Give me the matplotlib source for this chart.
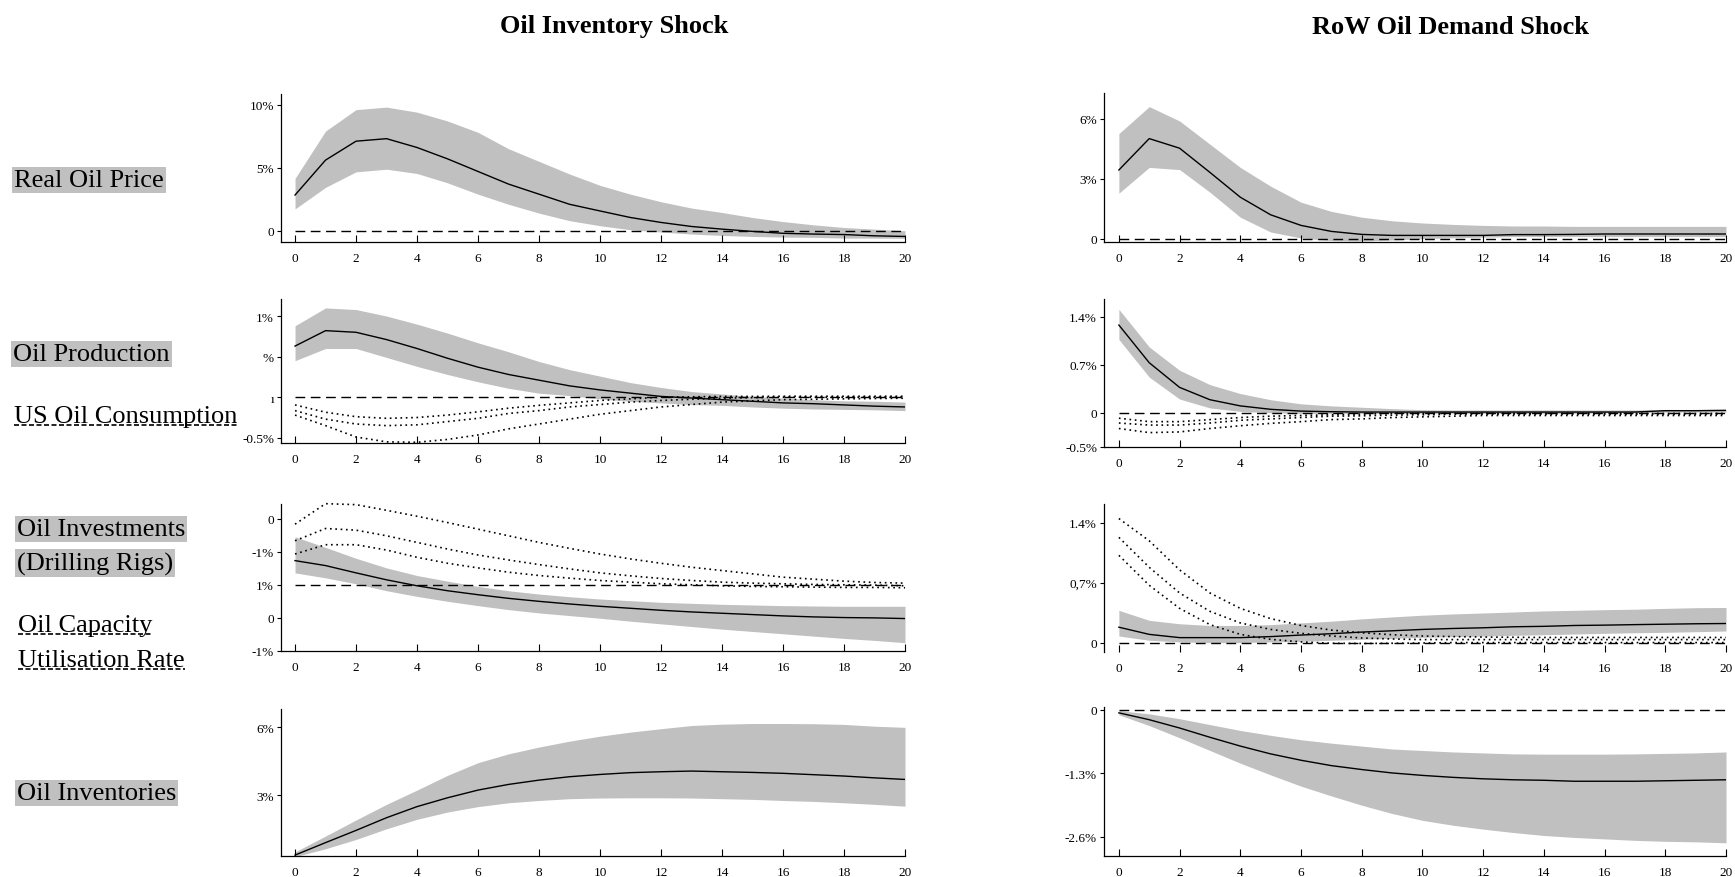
import matplotlib
matplotlib.use("Agg")
import matplotlib.pyplot as plt
from matplotlib.lines import Line2D

W, H = 1735, 878
horizon = list(range(21))

# ---------------- Oil Inventory Shock ----------------
inv_price_med = [2.83, 5.6, 7.1, 7.3, 6.6, 5.7, 4.7, 3.7, 2.9, 2.1, 1.57, 1.05, 0.66, 0.34, 0.13, -0.05, -0.2, -0.26, -0.3, -0.4, -0.45]
inv_price_hi = [4.15, 7.9, 9.6, 9.8, 9.4, 8.7, 7.8, 6.5, 5.5, 4.5, 3.6, 2.9, 2.3, 1.8, 1.45, 1.05, 0.73, 0.47, 0.26, 0.13, 0.0]
inv_price_lo = [1.73, 3.44, 4.67, 4.88, 4.54, 3.8, 2.9, 2.1, 1.4, 0.8, 0.4, 0.08, -0.1, -0.26, -0.37, -0.45, -0.5, -0.52, -0.58, -0.58, -0.6]

inv_prod_med = [0.63, 0.82, 0.80, 0.71, 0.60, 0.48, 0.37, 0.28, 0.21, 0.14, 0.09, 0.05, 0.01, -0.01, -0.03, -0.05, -0.07, -0.08, -0.095, -0.11, -0.12]
inv_prod_hi = [0.88, 1.10, 1.08, 1.00, 0.90, 0.79, 0.67, 0.56, 0.44, 0.34, 0.26, 0.18, 0.12, 0.07, 0.04, 0.01, -0.01, -0.03, -0.045, -0.05, -0.06]
inv_prod_lo = [0.45, 0.60, 0.60, 0.49, 0.38, 0.28, 0.19, 0.11, 0.05, 0.02, -0.02, -0.05, -0.07, -0.09, -0.10, -0.12, -0.135, -0.145, -0.15, -0.155, -0.165]
inv_cons_hi = [-0.095, -0.185, -0.24, -0.26, -0.25, -0.22, -0.18, -0.135, -0.10, -0.07, -0.04, -0.02, 0.0, 0.005, 0.01, 0.01, 0.012, 0.012, 0.012, 0.012, 0.012]
inv_cons_med = [-0.165, -0.27, -0.33, -0.35, -0.34, -0.30, -0.26, -0.20, -0.165, -0.12, -0.09, -0.06, -0.04, -0.025, -0.012, -0.005, 0.0, 0.0, 0.0, 0.0, 0.0]
inv_cons_lo = [-0.22, -0.35, -0.49, -0.55, -0.555, -0.52, -0.465, -0.39, -0.33, -0.27, -0.21, -0.165, -0.12, -0.09, -0.06, -0.045, -0.03, -0.025, -0.02, -0.016, -0.012]

inv_rigs_med = [1.73, 1.58, 1.36, 1.15, 0.97, 0.82, 0.70, 0.59, 0.50, 0.42, 0.35, 0.29, 0.23, 0.18, 0.14, 0.10, 0.06, 0.03, 0.01, 0.0, -0.02]
inv_rigs_hi = [2.45, 2.13, 1.80, 1.51, 1.28, 1.11, 0.95, 0.82, 0.72, 0.64, 0.57, 0.52, 0.47, 0.44, 0.41, 0.39, 0.37, 0.36, 0.35, 0.35, 0.35]
inv_rigs_lo = [1.36, 1.21, 1.03, 0.82, 0.65, 0.50, 0.37, 0.25, 0.15, 0.07, -0.01, -0.10, -0.18, -0.26, -0.34, -0.41, -0.48, -0.55, -0.62, -0.68, -0.75]
inv_cap_hi = [2.83, 3.45, 3.42, 3.25, 3.07, 2.88, 2.68, 2.48, 2.28, 2.10, 1.93, 1.78, 1.65, 1.53, 1.43, 1.33, 1.23, 1.17, 1.11, 1.07, 1.05]
inv_cap_med = [2.33, 2.70, 2.65, 2.48, 2.28, 2.08, 1.90, 1.75, 1.61, 1.48, 1.36, 1.27, 1.19, 1.13, 1.08, 1.05, 1.03, 1.01, 1.00, 0.99, 0.97]
inv_cap_lo = [1.93, 2.21, 2.21, 2.05, 1.83, 1.65, 1.51, 1.38, 1.28, 1.20, 1.13, 1.08, 1.03, 1.00, 0.97, 0.95, 0.94, 0.93, 0.92, 0.92, 0.91]

inv_stock_med = [0.35, 0.9, 1.44, 2.0, 2.49, 2.88, 3.22, 3.47, 3.66, 3.81, 3.91, 3.99, 4.03, 4.06, 4.03, 4.0, 3.96, 3.9, 3.84, 3.76, 3.69]
inv_stock_hi = [0.49, 1.19, 1.9, 2.59, 3.22, 3.87, 4.43, 4.82, 5.12, 5.38, 5.6, 5.78, 5.93, 6.07, 6.13, 6.16, 6.16, 6.15, 6.12, 6.04, 5.99]
inv_stock_lo = [0.28, 0.63, 1.04, 1.51, 1.93, 2.25, 2.49, 2.66, 2.76, 2.84, 2.87, 2.88, 2.88, 2.87, 2.84, 2.81, 2.76, 2.72, 2.66, 2.59, 2.51]

# ---------------- RoW Oil Demand Shock ----------------
dem_price_med = [3.45, 5.02, 4.54, 3.33, 2.09, 1.21, 0.68, 0.38, 0.23, 0.18, 0.18, 0.18, 0.18, 0.22, 0.22, 0.23, 0.25, 0.25, 0.25, 0.25, 0.25]
dem_price_hi = [5.27, 6.62, 5.9, 4.74, 3.58, 2.64, 1.84, 1.38, 1.09, 0.91, 0.8, 0.73, 0.68, 0.65, 0.65, 0.63, 0.63, 0.63, 0.63, 0.63, 0.63]
dem_price_lo = [2.29, 3.58, 3.47, 2.34, 1.09, 0.35, 0.05, -0.08, -0.1, -0.05, 0.02, 0.06, 0.09, 0.12, 0.12, 0.12, 0.12, 0.12, 0.12, 0.12, 0.12]

dem_prod_med = [1.28, 0.73, 0.37, 0.19, 0.10, 0.05, 0.024, 0.015, 0.01, 0.01, 0.01, 0.01, 0.01, 0.01, 0.01, 0.01, 0.01, 0.01, 0.03, 0.03, 0.035]
dem_prod_hi = [1.51, 0.96, 0.62, 0.41, 0.28, 0.19, 0.13, 0.10, 0.08, 0.06, 0.044, 0.04, 0.04, 0.04, 0.04, 0.04, 0.04, 0.04, 0.045, 0.045, 0.045]
dem_prod_lo = [1.07, 0.52, 0.20, 0.07, 0.02, 0.0, -0.01, -0.01, -0.01, -0.01, -0.01, -0.01, -0.01, -0.01, -0.01, -0.01, 0.0, 0.0, 0.01, 0.01, 0.01]
dem_cons_hi = [-0.08, -0.13, -0.13, -0.10, -0.07, -0.05, -0.04, -0.03, -0.02, -0.01, -0.01, -0.01, -0.01, -0.01, -0.01, -0.01, -0.01, -0.01, -0.01, -0.01, -0.01]
dem_cons_med = [-0.15, -0.18, -0.18, -0.15, -0.11, -0.09, -0.07, -0.05, -0.045, -0.035, -0.03, -0.02, -0.02, -0.02, -0.02, -0.02, -0.02, -0.02, -0.02, -0.02, -0.02]
dem_cons_lo = [-0.23, -0.29, -0.28, -0.23, -0.19, -0.155, -0.13, -0.10, -0.09, -0.07, -0.06, -0.05, -0.04, -0.04, -0.04, -0.04, -0.04, -0.04, -0.04, -0.04, -0.04]

dem_rigs_med = [0.18, 0.096, 0.058, 0.058, 0.058, 0.07, 0.088, 0.104, 0.123, 0.138, 0.154, 0.165, 0.173, 0.185, 0.19, 0.2, 0.204, 0.21, 0.215, 0.22, 0.223]
dem_rigs_hi = [0.377, 0.26, 0.22, 0.2, 0.2, 0.21, 0.23, 0.25, 0.277, 0.3, 0.32, 0.335, 0.346, 0.358, 0.37, 0.377, 0.385, 0.39, 0.4, 0.408, 0.41]
dem_rigs_lo = [0.077, 0.027, 0.008, 0.0, 0.0, 0.008, 0.015, 0.027, 0.038, 0.05, 0.062, 0.07, 0.077, 0.085, 0.092, 0.1, 0.108, 0.115, 0.12, 0.127, 0.135]
dem_cap_hi = [1.45, 1.19, 0.85, 0.58, 0.40, 0.28, 0.20, 0.146, 0.115, 0.092, 0.077, 0.07, 0.065, 0.062, 0.06, 0.06, 0.06, 0.06, 0.06, 0.06, 0.06]
dem_cap_med = [1.23, 0.88, 0.58, 0.365, 0.23, 0.154, 0.108, 0.077, 0.054, 0.042, 0.035, 0.035, 0.035, 0.035, 0.035, 0.035, 0.035, 0.035, 0.035, 0.035, 0.035]
dem_cap_lo = [1.02, 0.67, 0.40, 0.21, 0.096, 0.038, 0.008, -0.008, -0.01, -0.008, -0.005, 0.0, 0.0, 0.0, 0.0, 0.0, 0.0, 0.0, 0.0, 0.0, 0.0]

dem_stock_med = [-0.06, -0.2, -0.37, -0.56, -0.74, -0.9, -1.03, -1.14, -1.22, -1.29, -1.34, -1.38, -1.41, -1.43, -1.44, -1.46, -1.46, -1.46, -1.45, -1.44, -1.43]
dem_stock_hi = [-0.014, -0.08, -0.18, -0.3, -0.42, -0.52, -0.61, -0.68, -0.74, -0.8, -0.83, -0.86, -0.88, -0.9, -0.905, -0.905, -0.905, -0.9, -0.89, -0.88, -0.86]
dem_stock_lo = [-0.1, -0.32, -0.57, -0.83, -1.09, -1.33, -1.56, -1.76, -1.95, -2.12, -2.26, -2.36, -2.44, -2.51, -2.57, -2.61, -2.64, -2.67, -2.69, -2.70, -2.72]

# tick labels as shown
L1_ticks, L1_labels = [0, 5, 10], ["0", "5%", "10%"]
L2_ticks, L2_labels = [-0.5, 0, 0.5, 1.0], ["-0.5%", "ı", "%", "1%"]
L3_ticks, L3_labels = [-1, 0, 1, 2, 3], ["-1%", "0", "1%", "-1%", "0"]
L4_ticks, L4_labels = [3, 6], ["3%", "6%"]
R1_ticks, R1_labels = [0, 3, 6], ["0", "3%", "6%"]
R2_ticks, R2_labels = [-0.5, 0, 0.7, 1.4], ["-0.5%", "0", "0.7%", "1.4%"]
R3_ticks, R3_labels = [0, 0.7, 1.4], ["0", "0,7%", "1.4%"]
R4_ticks, R4_labels = [-2.6, -1.3, 0], ["-2.6%", "-1.3%", "0"]

col_titles = ["Oil Inventory Shock", "RoW Oil Demand Shock"]

SERIF = ["Liberation Serif", "DejaVu Serif"]
plt.rcParams["font.family"] = SERIF
BAND = "#c0c0c0"

fig = plt.figure(figsize=(W / 100, H / 100), dpi=100)


def make_ax(x_left, x_right, y_top, y_bot, xlim_left, ylim):
    ax = fig.add_axes([x_left / W, 1 - y_bot / H, (x_right - x_left) / W, (y_bot - y_top) / H])
    ax.set_xlim(xlim_left, 20)
    ax.set_ylim(*ylim)
    for s in ["top", "right"]:
        ax.spines[s].set_visible(False)
    for s in ["left", "bottom"]:
        ax.spines[s].set_linewidth(0.9)
    ax.set_xticks(range(0, 21, 2))
    ax.tick_params(axis="x", direction="in", length=5, width=0.8, pad=7, labelsize=9.5)
    ax.tick_params(axis="y", direction="out", length=3, width=0.8, pad=2, labelsize=9.5)
    ax.patch.set_alpha(0)
    return ax


def band(ax, med, lo, hi):
    ax.fill_between(horizon, lo, hi, color=BAND, linewidth=0, zorder=1)
    ax.plot(horizon, med, color="black", lw=1.0, zorder=3)


def dotted(ax, *series):
    for s in series:
        ax.plot(horizon, s, color="black", lw=1.2, linestyle=(0, (1, 2.2)), zorder=4, clip_on=False)


def zero(ax, y=0):
    ax.plot([0, 20], [y, y], color="black", lw=1.0, dashes=(7, 4), zorder=2, clip_on=False)


LX = (281, 905, -0.46)
RX = (1104, 1726, -0.49)

# Left column
ax = make_ax(LX[0], LX[1], 95, 243, LX[2], (-0.89, 10.84))
band(ax, inv_price_med, inv_price_lo, inv_price_hi); zero(ax)
ax.set_yticks(L1_ticks, L1_labels)

ax = make_ax(LX[0], LX[1], 300, 444, LX[2], (-0.564, 1.21))
band(ax, inv_prod_med, inv_prod_lo, inv_prod_hi); zero(ax)
dotted(ax, inv_cons_hi, inv_cons_med, inv_cons_lo)
ax.set_yticks(L2_ticks, L2_labels)

ax = make_ax(LX[0], LX[1], 505, 652, LX[2], (-1.0, 3.44))
band(ax, inv_rigs_med, inv_rigs_lo, inv_rigs_hi); zero(ax, 1)
dotted(ax, inv_cap_hi, inv_cap_med, inv_cap_lo)
ax.set_yticks(L3_ticks, L3_labels)

ax = make_ax(LX[0], LX[1], 710, 857, LX[2], (0.31, 6.8))
band(ax, inv_stock_med, inv_stock_lo, inv_stock_hi)
ax.set_yticks(L4_ticks, L4_labels)

# Right column
ax = make_ax(RX[0], RX[1], 94, 243, RX[2], (-0.15, 7.3))
band(ax, dem_price_med, dem_price_lo, dem_price_hi); zero(ax)
ax.set_yticks(R1_ticks, R1_labels)

ax = make_ax(RX[0], RX[1], 300, 448, RX[2], (-0.5, 1.66))
band(ax, dem_prod_med, dem_prod_lo, dem_prod_hi); zero(ax)
dotted(ax, dem_cons_hi, dem_cons_med, dem_cons_lo)
ax.set_yticks(R2_ticks, R2_labels)

ax = make_ax(RX[0], RX[1], 505, 653, RX[2], (-0.11, 1.62))
band(ax, dem_rigs_med, dem_rigs_lo, dem_rigs_hi); zero(ax)
dotted(ax, dem_cap_hi, dem_cap_med, dem_cap_lo)
ax.spines["bottom"].set_visible(False)
ax.set_yticks(R3_ticks, R3_labels)

ax = make_ax(RX[0], RX[1], 708, 857, RX[2], (-2.99, 0.06))
band(ax, dem_stock_med, dem_stock_lo, dem_stock_hi); zero(ax)
ax.set_yticks(R4_ticks, R4_labels)

# Column titles
fig.text(614 / W, 1 - 27 / H, col_titles[0], ha="center", va="center", fontsize=19, fontweight="bold")
fig.text(1450 / W, 1 - 27 / H, col_titles[1], ha="center", va="center", fontsize=19, fontweight="bold")

# Row labels
shaded = [("Real Oil Price", 14, 181), ("Oil Production", 13, 355), ("Oil Investments", 17, 530),
          ("(Drilling Rigs)", 17, 564), ("Oil Inventories", 17, 794)]
underlined = [("US Oil Consumption", 14, 417), ("Oil Capacity", 18, 626), ("Utilisation Rate", 18, 661)]

for txt, x, y in shaded:
    fig.text(x / W, 1 - y / H, txt, ha="left", va="center", fontsize=19,
             bbox=dict(facecolor=BAND, edgecolor="none", pad=1.5))

utexts = []
for txt, x, y in underlined:
    t = fig.text(x / W, 1 - y / H, txt, ha="left", va="center", fontsize=19)
    utexts.append(t)

fig.canvas.draw()
r = fig.canvas.get_renderer()
for t in utexts:
    bb = t.get_window_extent(renderer=r)
    yline = bb.y0 + 2
    fig.add_artist(Line2D([bb.x0 / W, bb.x1 / W], [yline / H, yline / H], color="black",
                          lw=1.2, dashes=(3, 1.5), transform=fig.transFigure))

fig.savefig("out.png", dpi=100)
